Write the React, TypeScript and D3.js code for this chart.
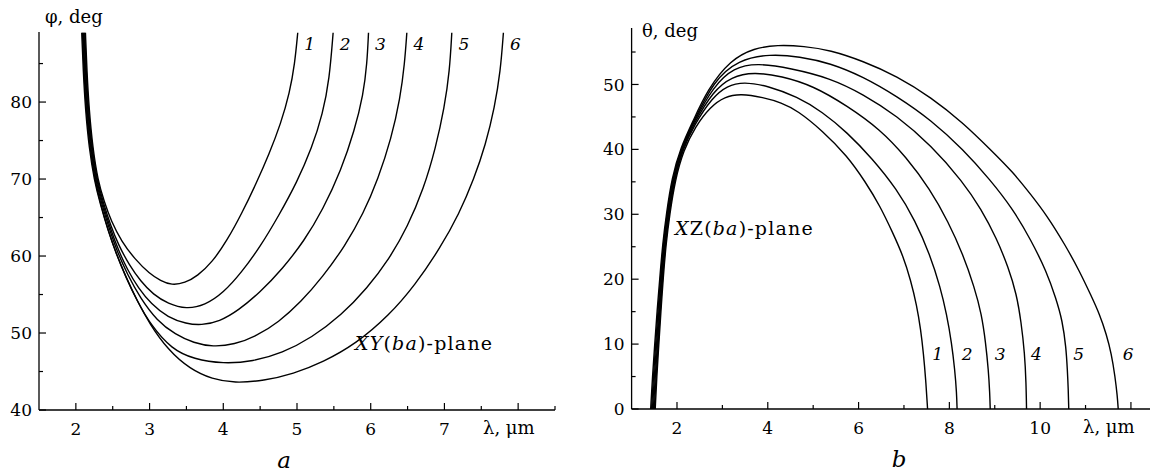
import React from 'react';
import * as d3 from 'd3';

// panel a: phi (deg) vs lambda (um), XY(ba)-plane
const curveNames = ['1', '2', '3', '4', '5', '6'];

const xyCurve1 = [[2.13,89],[2.15,84],[2.18,79],[2.23,74],[2.30,69.8],[2.38,67.2],[2.48,64.5],[2.62,61.9],[2.80,59.6],[3.00,57.7],[3.15,56.8],[3.30,56.2],[3.48,56.5],[3.65,57.4],[3.85,59.2],[4.05,62.0],[4.25,65.5],[4.45,69.5],[4.62,73.2],[4.78,77.2],[4.90,81.2],[4.97,85],[5.01,89]];
const xyCurve2 = [[2.12,89],[2.14,84],[2.17,79],[2.22,74],[2.29,69.8],[2.37,67.0],[2.47,64.0],[2.58,61.4],[2.72,58.9],[2.88,56.7],[3.05,55.0],[3.25,53.8],[3.50,53.1],[3.75,53.6],[4.00,55.2],[4.25,57.9],[4.50,61.2],[4.75,65.2],[5.00,69.6],[5.20,74.0],[5.35,78.5],[5.44,83],[5.49,89]];
const xyCurve3 = [[2.11,89],[2.13,84],[2.16,79],[2.21,74],[2.28,69.8],[2.36,66.9],[2.46,63.8],[2.57,60.9],[2.70,58.2],[2.85,55.8],[3.02,53.8],[3.25,52.0],[3.50,51.2],[3.70,51.0],[3.95,51.5],[4.20,52.9],[4.50,55.3],[4.80,58.3],[5.10,62.0],[5.35,66.0],[5.60,71.2],[5.78,76.3],[5.90,81],[5.95,85],[5.97,89]];
const xyCurve4 = [[2.10,89],[2.12,84],[2.15,79],[2.20,74],[2.27,69.8],[2.35,66.8],[2.45,63.6],[2.56,60.6],[2.70,57.6],[2.87,54.6],[3.10,51.6],[3.35,49.8],[3.60,48.7],[3.86,48.2],[4.15,48.5],[4.45,49.6],[4.75,51.4],[5.05,54.0],[5.35,57.3],[5.65,61.3],[5.90,65.5],[6.10,70.0],[6.28,75.3],[6.40,80.5],[6.46,85],[6.49,89]];
const xyCurve5 = [[2.09,89],[2.11,84],[2.14,79],[2.19,74],[2.26,69.8],[2.34,66.6],[2.44,63.3],[2.55,60.2],[2.68,57.2],[2.84,54.0],[3.02,51.0],[3.30,47.9],[3.60,46.6],[4.00,46.0],[4.40,46.3],[4.80,47.4],[5.20,49.4],[5.60,52.3],[5.95,55.8],[6.25,59.6],[6.50,63.8],[6.72,68.8],[6.88,74.0],[7.00,79.3],[7.07,84],[7.10,89]];
const xyCurve6 = [[2.08,89],[2.10,84],[2.13,79],[2.18,74],[2.25,69.8],[2.33,66.8],[2.43,63.5],[2.54,60.5],[2.67,57.5],[2.83,54.2],[3.00,51.2],[3.25,47.8],[3.55,45.3],[3.85,44.0],[4.15,43.5],[4.55,43.8],[4.95,44.7],[5.35,46.2],[5.80,48.6],[6.25,52.3],[6.60,56.2],[6.94,61.0],[7.20,65.5],[7.40,70.0],[7.56,74.5],[7.68,79.3],[7.76,84],[7.80,89]];

// panel b: theta (deg) vs lambda (um), XZ(ba)-plane
const xzCurve1 = [[1.52,0],[1.555,5],[1.60,10],[1.645,15],[1.70,20.5],[1.76,25.5],[1.84,30],[1.96,35.3],[2.14,39.8],[2.40,43.5],[2.74,46.6],[3.05,48.1],[3.40,48.6],[3.90,48.0],[4.30,47.2],[4.65,46.0],[5.20,42.9],[5.75,39.0],[6.15,35.0],[6.47,31.3],[6.75,27.2],[6.98,23.6],[7.15,19.8],[7.28,16.0],[7.37,12.2],[7.43,8.5],[7.48,4.5],[7.52,0]];
const xzCurve2 = [[1.50,0],[1.54,5],[1.585,10],[1.63,15],[1.685,20.5],[1.745,25.5],[1.825,30],[1.945,35.4],[2.12,39.9],[2.38,43.8],[2.78,48.0],[3.10,49.8],[3.47,50.4],[4.00,49.8],[4.65,48.1],[5.20,45.8],[5.75,42.6],[6.30,38.6],[6.84,33.9],[7.25,29.0],[7.57,23.8],[7.80,18.8],[7.94,14.6],[8.05,10.2],[8.12,6.0],[8.16,2.5],[8.17,0]];
const xzCurve3 = [[1.48,0],[1.52,5],[1.57,10],[1.615,15],[1.67,20.5],[1.73,25.5],[1.81,30],[1.93,35.4],[2.11,40.0],[2.37,44.0],[2.80,49.0],[3.20,51.2],[3.69,51.9],[4.30,51.3],[5.00,49.8],[5.75,46.7],[6.47,43.1],[7.05,38.8],[7.57,33.9],[7.98,28.8],[8.30,23.8],[8.55,18.8],[8.71,14.6],[8.80,10.2],[8.86,6.0],[8.89,2.5],[8.90,0]];
const xzCurve4 = [[1.46,0],[1.50,5],[1.55,10],[1.60,15],[1.655,20.5],[1.715,25.5],[1.795,30],[1.915,35.5],[2.10,40.1],[2.36,44.1],[2.80,49.7],[3.25,52.6],[3.77,53.3],[4.50,52.5],[5.37,51.0],[6.10,48.5],[6.84,45.2],[7.60,40.6],[8.30,35.0],[8.70,30.8],[9.04,26.3],[9.30,21.8],[9.48,17.7],[9.58,13.5],[9.66,8.5],[9.69,4.0],[9.70,0]];
const xzCurve5 = [[1.44,0],[1.48,5],[1.53,10],[1.58,15],[1.64,20.5],[1.70,25.5],[1.78,30],[1.90,35.5],[2.09,40.2],[2.36,44.2],[2.80,50.5],[3.35,53.8],[4.05,54.7],[4.70,54.3],[5.37,53.3],[6.10,51.2],[6.84,48.2],[7.60,44.5],[8.30,40.0],[8.90,35.3],[9.40,30.8],[9.80,26.0],[10.14,21.2],[10.35,17.0],[10.49,13.6],[10.57,9.5],[10.60,6.0],[10.62,3.0],[10.63,0]];
const xzCurve6 = [[1.42,0],[1.46,5],[1.51,10],[1.56,15],[1.625,20.5],[1.685,25.5],[1.765,30],[1.885,35.6],[2.08,40.3],[2.35,44.3],[2.67,49.2],[3.18,53.8],[3.70,55.6],[4.21,56.1],[4.80,55.9],[5.37,55.3],[6.10,53.6],[6.84,51.3],[7.60,48.0],[8.30,44.1],[8.90,40.0],[9.40,36.5],[9.80,33.0],[10.14,29.9],[10.55,25.3],[10.87,21.2],[11.12,17.5],[11.31,14.6],[11.46,11.5],[11.57,8.5],[11.65,5.0],[11.70,2.0],[11.72,0]];

const xyCurves = [xyCurve1, xyCurve2, xyCurve3, xyCurve4, xyCurve5, xyCurve6];
const xzCurves = [xzCurve1, xzCurve2, xzCurve3, xzCurve4, xzCurve5, xzCurve6];

const aMajorX = [2, 3, 4, 5, 6, 7, 8];
const aLabelX = [2, 3, 4, 5, 6, 7];
const aMinorX = [2.5, 3.5, 4.5, 5.5, 6.5, 7.5, 8.5];
const aMajorY = [40, 50, 60, 70, 80];
const aMinorY = [45, 55, 65, 75, 85];

const bMajorX = [2, 4, 6, 8, 10, 12];
const bLabelX = [2, 4, 6, 8, 10];
const bMinorX = [3, 5, 7, 9, 11];
const bMajorY = [0, 10, 20, 30, 40, 50];
const bMinorY = [5, 15, 25, 35, 45, 55];

const FONT = 'DejaVu Serif';

function Panel({ x, y, curves, majorX, labelX, minorX, majorY, minorY, labelDx, curveLabelY }) {
  const x0 = x.range()[0];
  const x1 = x.range()[1];
  const y0 = y.range()[0];
  const y1 = y.range()[1];
  const line = d3.line()
    .x(d => x(d[0]))
    .y(d => y(d[1]))
    .curve(d3.curveBasis);

  return (
    <g>
      <line x1={x0} x2={x0} y1={y0} y2={y1} stroke="#000" strokeWidth={1.3} />
      <line x1={x0} x2={x1} y1={y0} y2={y0} stroke="#000" strokeWidth={1.3} />
      {majorY.map(v => (
        <line key={'my' + v} x1={x0} x2={x0 + 7} y1={y(v)} y2={y(v)} stroke="#000" strokeWidth={1.2} />
      ))}
      {minorY.map(v => (
        <line key={'ny' + v} x1={x0} x2={x0 + 4} y1={y(v)} y2={y(v)} stroke="#000" strokeWidth={1.2} />
      ))}
      {majorX.map(v => (
        <line key={'mx' + v} x1={x(v)} x2={x(v)} y1={y0} y2={y0 - 7} stroke="#000" strokeWidth={1.2} />
      ))}
      {minorX.map(v => (
        <line key={'nx' + v} x1={x(v)} x2={x(v)} y1={y0} y2={y0 - 4} stroke="#000" strokeWidth={1.2} />
      ))}
      {majorY.map(v => (
        <text key={'ty' + v} x={x0 - 7} y={y(v)} dy="0.36em" textAnchor="end" fontSize={17} fontFamily={FONT}>{v}</text>
      ))}
      {labelX.map(v => (
        <text key={'tx' + v} x={x(v)} y={y0 + 25} textAnchor="middle" fontSize={17} fontFamily={FONT}>{v}</text>
      ))}
      {curves.map((c, i) => (
        <path key={'c' + i} d={line(c)} fill="none" stroke="#000" strokeWidth={1.4} />
      ))}
      {curves.map((c, i) => {
        const end = c[c.length - 1];
        return (
          <text key={'l' + i} x={x(end[0]) + labelDx} y={curveLabelY} textAnchor="middle"
            fontSize={17} fontStyle="italic" fontFamily={FONT}>{curveNames[i]}</text>
        );
      })}
    </g>
  );
}

export default function App() {
  const xA = d3.scaleLinear().domain([1.5, 8.5]).range([39, 555]);
  const yA = d3.scaleLinear().domain([40, 89.1]).range([410, 32]);
  const xB = d3.scaleLinear().domain([1, 12.42]).range([631.6, 1150]);
  const yB = d3.scaleLinear().domain([0, 58.7]).range([409, 28]);

  return (
    <svg width={1151} height={473} style={{ position: 'absolute', left: 0, top: 0, background: '#fff' }}>
      <Panel x={xA} y={yA} curves={xyCurves} majorX={aMajorX} labelX={aLabelX} minorX={aMinorX}
        majorY={aMajorY} minorY={aMinorY} labelDx={12} curveLabelY={50} />
      <Panel x={xB} y={yB} curves={xzCurves} majorX={bMajorX} labelX={bLabelX} minorX={bMinorX}
        majorY={bMajorY} minorY={bMinorY} labelDx={10} curveLabelY={360} />

      <text x={45} y={23} fontSize={18} fontFamily={FONT}>φ, deg</text>
      <text x={483} y={434} fontSize={18} fontFamily={FONT}>λ, μm</text>
      <text x={355} y={350} fontSize={19} letterSpacing={1.2} fontFamily={FONT}>
        <tspan fontStyle="italic">XY</tspan>(<tspan fontStyle="italic">ba</tspan>)-plane
      </text>
      <text x={284} y={468} textAnchor="middle" fontSize={23} fontStyle="italic" fontFamily={FONT}>a</text>

      <text x={642} y={37} fontSize={18} fontFamily={FONT}>θ, deg</text>
      <text x={1083} y={433} fontSize={18} fontFamily={FONT}>λ, μm</text>
      <text x={675} y={235} fontSize={19} letterSpacing={1.2} fontFamily={FONT}>
        <tspan fontStyle="italic">X</tspan>Z(<tspan fontStyle="italic">ba</tspan>)-plane
      </text>
      <text x={899} y={467} textAnchor="middle" fontSize={23} fontStyle="italic" fontFamily={FONT}>b</text>
    </svg>
  );
}
